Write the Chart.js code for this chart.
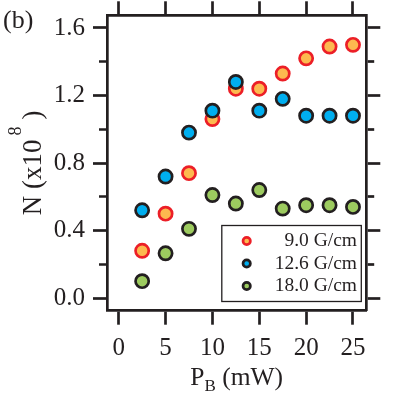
<!DOCTYPE html>
<html>
<head>
<meta charset="utf-8">
<script src="https://cdn.jsdelivr.net/npm/chart.js@4.4.1/dist/chart.umd.min.js"></script>
<style>
  html, body { margin: 0; padding: 0; background: #ffffff; }
  #wrap { width: 410px; height: 394px; }
</style>
</head>
<body>
<div id="wrap"><canvas id="c" width="410" height="394"></canvas></div>
<script>
// ---- data ----
const pb = [2.5, 5, 7.5, 10, 12.5, 15, 17.5, 20, 22.5, 25];          // P_B (mW)
const n9  = [0.28, 0.50, 0.74, 1.06, 1.24, 1.24, 1.33, 1.42, 1.49, 1.50];  // 9.0 G/cm
const n126 = [0.52, 0.72, 0.98, 1.11, 1.28, 1.11, 1.18, 1.08, 1.08, 1.08]; // 12.6 G/cm
const n18 = [0.10, 0.265, 0.41, 0.61, 0.56, 0.64, 0.53, 0.55, 0.55, 0.54]; // 18.0 G/cm
const seriesLabels = ['9.0 G/cm', '12.6 G/cm', '18.0 G/cm'];
const xTickValues = [0, 5, 10, 15, 20, 25];
const yMajorTicks = [0.0, 0.4, 0.8, 1.2, 1.6];
const yMinorTicks = [0.2, 0.6, 1.0, 1.4];
const xTitle = ['P', 'B', ' (mW)'];
const yTitle = ['N (x10', '8', ')'];
const panelLabel = '(b)';

// ---- styling ----
const INK = '#231f20';
const SERIF = "'Liberation Serif', 'Times New Roman', serif";
const BW = 2.7;   // frame / tick width
const TL = 14;    // major tick length
const TICK_FONT = 25;

const yTickValues = yMajorTicks.concat(yMinorTicks).sort((a, b) => a - b);
const isMinorY = v => yMinorTicks.some(m => Math.abs(m - v) < 1e-6);
const toPts = ys => pb.map((x, i) => ({ x: x, y: ys[i] }));

function resetPad(s) { s.paddingLeft = 0; s.paddingRight = 0; s.paddingTop = 0; s.paddingBottom = 0; }

function xAxis(position, size, showLabels) {
  return {
    type: 'linear', axis: 'x', position: position,
    min: -1.25, max: 26.42,
    afterBuildTicks: s => { s.ticks = xTickValues.map(v => ({ value: v })); },
    afterFit: s => { s.height = size; resetPad(s); },
    grid: { drawOnChartArea: false, drawTicks: true, tickLength: TL, tickWidth: BW, tickColor: INK },
    border: { display: true, width: BW, color: INK },
    ticks: {
      display: showLabels, autoSkip: false, maxRotation: 0, minRotation: 0,
      padding: 8.5, color: INK, font: { family: SERIF, size: TICK_FONT },
      callback: v => String(v)
    }
  };
}

function yAxis(position, size, showLabels) {
  return {
    type: 'linear', axis: 'y', position: position,
    min: -0.075, max: 1.675,
    afterBuildTicks: s => { s.ticks = yTickValues.map(v => ({ value: v })); },
    afterFit: s => { s.width = size; resetPad(s); },
    grid: {
      drawOnChartArea: false, drawTicks: true, tickLength: TL, tickWidth: BW, tickColor: INK,
      tickBorderDash: c => (c.tick && isMinorY(c.tick.value)) ? (position === 'left' ? [0, 6, 40] : [6.5, 40]) : []
    },
    border: { display: true, width: BW, color: INK },
    ticks: {
      display: showLabels, autoSkip: false, padding: 8, color: INK,
      font: { family: SERIF, size: TICK_FONT },
      callback: v => isMinorY(v) ? '' : Number(v).toFixed(1)
    }
  };
}

// parts: [text, size, dy, gapBefore]; anchor 'center' or 'left'; y is the baseline
function drawRich(ctx, parts, x, y, anchor) {
  let total = 0;
  parts.forEach(p => { ctx.font = p[1] + 'px ' + SERIF; total += (p[3] || 0) + ctx.measureText(p[0]).width; });
  let cx = anchor === 'center' ? x - total / 2 : x;
  ctx.textAlign = 'left';
  ctx.textBaseline = 'alphabetic';
  parts.forEach(p => {
    ctx.font = p[1] + 'px ' + SERIF;
    cx += (p[3] || 0);
    ctx.fillText(p[0], cx, y + p[2]);
    cx += ctx.measureText(p[0]).width;
  });
}

const decor = {
  id: 'decor',
  afterUpdate(chart) {
    const L = chart.legend, ca = chart.chartArea;
    if (!L) return;
    L.left = ca.right - 128.1;
    L.right = ca.right - 9.3;
    L.top = ca.bottom - 82.45;
    L.bottom = ca.bottom - 9.5;
    L.width = L.right - L.left;
    L.height = L.bottom - L.top;
    L.adjustHitBoxes();
  },
  afterDraw(chart) {
    const ctx = chart.ctx, ca = chart.chartArea;
    ctx.save();
    // legend frame
    ctx.strokeStyle = INK;
    ctx.lineWidth = 1.3;
    ctx.strokeRect(ca.right - 144.5, ca.bottom - 85.2, 139.5, 76);
    ctx.fillStyle = INK;
    // x-axis title
    drawRich(ctx, [[xTitle[0], 25.5, 0, 0], [xTitle[1], 17, 6, 0], [xTitle[2], 25.5, 0, 0]],
             (ca.left + ca.right) / 2, ca.bottom + 74.5, 'center');
    // y-axis title (rotated, reading upwards)
    ctx.save();
    ctx.translate(41, ca.bottom - 95.5);
    ctx.rotate(-Math.PI / 2);
    drawRich(ctx, [[yTitle[0], 27, 0, 0], [yTitle[1], 18, -20, 4], [yTitle[2], 27, 0, 7]], 0, 0, 'left');
    ctx.restore();
    // panel label
    ctx.font = '26px ' + SERIF;
    ctx.textAlign = 'left';
    ctx.textBaseline = 'alphabetic';
    ctx.fillText(panelLabel, 3, 27.5);
    ctx.restore();
  }
};

const common = { pointRadius: 6.6, pointHoverRadius: 6.6, borderWidth: BW, pointStyle: 'circle', showLine: false };

new Chart(document.getElementById('c'), {
  type: 'scatter',
  data: {
    datasets: [
      Object.assign({ label: seriesLabels[0], data: toPts(n9),  backgroundColor: '#fdb94f', borderColor: '#ec1f27', order: 2 }, common),
      Object.assign({ label: seriesLabels[1], data: toPts(n126), backgroundColor: '#00aeef', borderColor: INK, order: 1 }, common),
      Object.assign({ label: seriesLabels[2], data: toPts(n18), backgroundColor: '#9dcb5f', borderColor: INK, order: 3 }, common)
    ]
  },
  options: {
    responsive: false,
    devicePixelRatio: 1,
    animation: false,
    layout: { padding: 0 },
    plugins: {
      tooltip: { enabled: false },
      title: { display: false },
      legend: {
        display: true,
        position: 'chartArea',
        align: 'start',
        labels: {
          usePointStyle: true, pointStyle: 'circle',
          boxWidth: 11, boxHeight: 5.2, padding: 3,
          textAlign: 'right', color: INK,
          font: { family: SERIF, size: 19.5 },
          sort: (a, b) => a.datasetIndex - b.datasetIndex
        }
      }
    },
    scales: {
      x: xAxis('bottom', 394 - 310.7, true),
      xTop: xAxis('top', 15.3, false),
      y: yAxis('left', 107, true),
      yRight: yAxis('right', 410 - 366.3, false)
    }
  },
  plugins: [decor]
});
</script>
</body>
</html>
